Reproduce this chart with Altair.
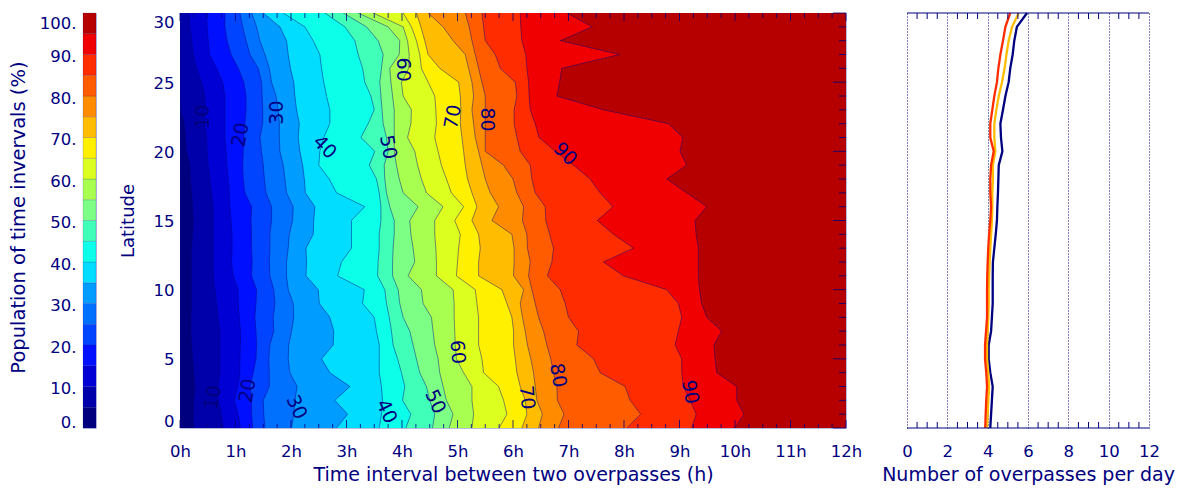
import altair as alt
import pandas as pd

NAVY = "#00007f"
FONT = "DejaVu Sans"
lats = list(range(31))
band_colors = ["#00007f", "#0000aa", "#0000d4", "#0010ff", "#0044ff", "#0070ff", "#009cff",
               "#00ddff", "#0cffe8", "#40ffb8", "#7cff84", "#a8ff50", "#dcff20", "#fff000",
               "#ffbc00", "#ff8c00", "#ff5c00", "#ff2c00", "#f00000", "#b60000"]
levels = list(range(5, 100, 5))

L5 = [.24,.24,.25,.27,.25,.23,.21,.20,.20,.21,.21,.21,.21,.21,.23,.24,.23,.21,.19,.18,.12,.10,.08,.01,0,0,0,0,0,0,0]
L10 = [.78,.75,.69,.69,.72,.72,.72,.72,.69,.66,.63,.60,.60,.60,.60,.60,.60,.57,.54,.51,.49,.48,.45,.45,.45,.39,.30,.24,.21,.18,.17]
L15 = [1.09,1.05,.98,1.05,1.08,1.08,1.09,1.09,1.07,1.05,1.05,.96,.93,.94,.94,.92,.90,.89,.87,.85,.83,.81,.81,.81,.81,.77,.66,.53,.51,.49,.48]
L20 = [1.31,1.29,1.29,1.26,1.32,1.37,1.38,1.37,1.35,1.37,1.38,1.29,1.30,1.29,1.29,1.28,1.29,1.17,1.14,1.13,1.14,1.15,1.17,1.19,1.19,1.15,1.05,.92,.85,.81,.81]
L25 = [1.53,1.51,1.50,1.61,1.61,1.60,1.62,1.69,1.68,1.71,1.69,1.62,1.61,1.62,1.62,1.65,1.65,1.55,1.52,1.50,1.47,1.44,1.49,1.49,1.48,1.47,1.41,1.26,1.19,1.13,1.08]
L30 = [2.01,2.05,2.07,2.11,1.98,1.95,1.96,2.01,2.05,2.04,1.95,1.92,1.92,1.95,1.97,2.03,2.04,1.92,1.89,1.86,1.80,1.79,1.79,1.77,1.73,1.65,1.61,1.53,1.44,1.38,1.29]
L35 = [2.82,3.02,2.79,3.06,2.70,2.55,2.76,2.77,2.70,2.51,2.49,2.27,2.28,2.27,2.40,2.41,2.43,2.26,2.24,2.21,2.16,2.13,2.15,2.10,2.07,2.05,1.99,1.95,1.92,1.80,1.50]
L40 = [3.59,3.63,3.65,3.63,3.59,3.59,3.59,3.54,3.50,3.29,3.32,2.84,2.91,3.09,3.09,3.09,3.33,2.82,2.69,2.50,2.52,2.59,2.70,2.70,2.64,2.59,2.55,2.52,2.40,2.25,1.86]
L45 = [4.07,4.16,4.01,4.05,3.99,3.92,3.84,3.81,3.77,3.72,3.69,3.56,3.57,3.59,3.59,3.62,3.62,3.59,3.54,3.41,3.51,3.26,3.39,3.50,3.44,3.33,3.29,3.21,3.15,2.97,2.61]
L50 = [4.55,4.59,4.50,4.44,4.32,4.26,4.20,4.14,4.02,3.96,3.93,3.83,3.83,3.84,3.86,3.86,3.78,3.72,3.69,3.68,3.75,3.72,3.66,3.64,3.62,3.60,3.63,3.66,3.57,3.36,2.94]
L55 = [4.85,4.92,4.80,4.74,4.68,4.65,4.59,4.56,4.53,4.38,4.35,4.11,4.23,4.20,4.16,4.14,4.29,4.02,3.95,3.90,3.86,3.86,3.86,3.86,3.83,3.80,3.78,3.95,3.96,3.75,3.21]
L60 = [5.26,5.29,5.26,5.26,5.11,4.98,4.96,4.95,4.94,4.94,4.92,4.62,4.62,4.61,4.59,4.59,4.74,4.44,4.35,4.28,4.23,4.10,4.16,4.17,4.02,3.99,4.12,4.13,4.10,4.02,3.48]
L65 = [5.75,5.89,5.83,5.74,5.47,5.44,5.38,5.38,5.38,5.35,5.32,4.98,5.0,5.02,5.05,4.95,5.11,4.89,4.80,4.71,4.65,4.59,4.62,4.61,4.59,4.47,4.35,4.32,4.26,4.17,4.02]
L70 = [6.16,6.25,6.22,6.13,6.07,6.04,6.01,6.01,5.98,5.89,5.80,5.38,5.38,5.41,5.38,5.26,5.35,5.26,5.18,5.14,5.11,5.08,5.05,5.06,5.05,5.02,4.68,4.47,4.41,4.34,4.26]
L75 = [6.46,6.53,6.43,6.40,6.37,6.32,6.26,6.22,6.17,6.13,6.19,6.01,6.02,6.02,5.98,5.62,5.74,5.59,5.50,5.44,5.38,5.32,5.29,5.26,5.29,5.26,5.20,5.14,4.92,4.74,4.47]
L80 = [6.82,6.92,6.80,6.79,6.73,6.68,6.61,6.55,6.46,6.40,6.34,6.28,6.31,6.26,6.25,6.17,6.19,6.07,6.0,5.83,5.50,5.50,5.50,5.50,5.50,5.44,5.38,5.32,5.26,5.21,5.14]
L85 = [8.05,8.30,8.11,8.02,7.57,7.45,7.15,7.18,7.0,6.94,6.85,6.62,6.70,6.73,6.66,6.59,6.58,6.40,6.34,6.31,6.13,6.07,6.02,6.02,6.07,6.04,5.77,5.68,5.50,5.47,5.44]
L90 = [9.22,9.30,9.19,9.07,9.04,9.04,8.92,8.98,9.04,8.98,8.77,7.99,7.63,8.17,7.81,7.52,7.80,7.57,7.39,7.09,6.76,6.47,6.40,6.31,6.29,6.28,6.25,6.23,6.16,6.14,6.13]
L95 = [10.0,10.16,10.03,10.03,9.67,9.64,9.62,9.76,9.49,9.40,9.36,9.34,9.34,9.34,9.30,9.28,9.49,9.13,8.77,9.13,9.01,9.06,8.80,7.63,6.79,6.84,6.88,7.92,6.85,7.43,6.97]
L100 = [12] * 31
contours = [L5, L10, L15, L20, L25, L30, L35, L40, L45, L50, L55, L60, L65, L70, L75, L80, L85, L90, L95, L100]

navy_line = [4.13,4.17,4.21,4.25,4.13,4.05,4.05,4.17,4.21,4.25,4.25,4.25,4.26,4.33,4.40,4.46,4.48,4.51,4.53,4.55,4.73,4.66,4.63,4.76,4.88,5.04,5.12,5.24,5.32,5.45,5.95]
orange_line = [3.97,4.0,4.03,4.07,4.03,3.97,3.97,4.0,4.03,4.05,4.05,4.07,4.10,4.13,4.17,4.21,4.23,4.23,4.26,4.26,4.38,4.33,4.33,4.43,4.55,4.71,4.84,4.93,5.04,5.21,5.54]
red_line = [3.88,3.90,3.93,3.97,3.93,3.87,3.87,3.92,3.97,3.97,3.97,3.98,4.0,4.03,4.07,4.13,4.17,4.13,4.13,4.17,4.30,4.13,4.13,4.23,4.33,4.46,4.53,4.63,4.76,4.88,5.12]

label_text = ["10","20","30","40","50","60","70","80","90","10","20","30","40","50","60","70","80","90"]
label_hour = [.41,1.09,1.75,2.61,3.75,4.02,4.92,5.53,6.94,.6,1.22,2.1,3.72,4.6,5.0,6.25,6.81,9.19]
label_lat = [22.5,21.2,22.8,20.3,20.3,25.9,22.5,22.3,19.8,2.2,2.7,1.5,1.2,1.9,5.5,2.2,3.8,2.6]
label_angle = [270,280,270,45,80,90,280,90,45,280,280,65,65,65,85,85,80,80]

W_BAR, W_MAIN, W_SIDE, H = 13, 666, 242, 415
GAP_1, GAP_2 = 84, 61

# ---------- colour bar
bar_df = pd.DataFrame({"lo": list(range(0, 100, 5)), "hi": list(range(5, 105, 5)), "c": band_colors})
bar = alt.Chart(bar_df).mark_rect(stroke=NAVY, strokeWidth=0.25, strokeOpacity=0.6).encode(
    y=alt.Y("lo:Q", scale=alt.Scale(domain=[0, 100], nice=False),
            axis=alt.Axis(values=list(range(0, 101, 10)), labelExpr="datum.value + '.'", ticks=False,
                          domain=False, grid=False, labelFlush=True, labelOffset=2, labelPadding=7,
                          title="Population of time invervals (%)", titlePadding=11, titleFontSize=19.5,
                          titleY=204)),
    y2="hi:Q",
    fill=alt.Fill("c:N", scale=None),
).properties(width=W_BAR, height=H)

# ---------- main panel
long_df = pd.DataFrame([
    {"level": lv, "lat": la, "hour": h, "zero": 0}
    for lv, vals in zip(levels + [100], contours) for la, h in zip(lats, vals)
])
x_main = alt.X("hour:Q", scale=alt.Scale(domain=[0, 12], nice=False),
               axis=alt.Axis(values=list(range(13)), labelExpr="datum.value + 'h'", ticks=False, domain=False,
                             grid=False, labelPadding=15, labelFlush=False,
                             title="Time interval between two overpasses (h)", titlePadding=6))
y_main = alt.Y("lat:Q", scale=alt.Scale(domain=[0, 30], nice=False),
               axis=alt.Axis(values=list(range(0, 31, 5)), ticks=False, domain=False, grid=False,
                             labelFlush=True, labelOffset=1, labelPadding=6, title="Latitude", titlePadding=16,
                             titleFontSize=18))

layers = []
for i in range(len(contours) - 1, -1, -1):
    lv = (levels + [100])[i]
    layers.append(
        alt.Chart(long_df).transform_filter(alt.datum.level == lv).mark_area(
            orient="horizontal", fill=band_colors[i], clip=True).encode(x=x_main, x2="zero:Q", y=y_main)
    )
for lv in levels:
    layers.append(
        alt.Chart(long_df).transform_filter(alt.datum.level == lv).mark_line(
            color=NAVY, strokeWidth=0.6, opacity=0.75, clip=True).encode(x=x_main, y=y_main, order="lat:Q")
    )

quarter_df = pd.DataFrame({"hour": [q / 4 for q in range(49)], "major": [q % 4 == 0 for q in range(49)]})
lat_df = pd.DataFrame({"lat": lats, "major": [la % 5 == 0 for la in lats]})
q_major = quarter_df[quarter_df.major]
q_minor = quarter_df[~quarter_df.major]
l_major = lat_df[lat_df.major]
l_minor = lat_df[~lat_df.major]
tick_style = dict(color=NAVY, strokeWidth=0.8)
layers += [
    alt.Chart(q_major).mark_rule(**tick_style).encode(x=x_main, y=alt.value(0), y2=alt.value(8)),
    alt.Chart(q_minor).mark_rule(**tick_style).encode(x=x_main, y=alt.value(0), y2=alt.value(5)),
    alt.Chart(q_major).mark_rule(**tick_style).encode(x=x_main, y=alt.value(H - 8), y2=alt.value(H)),
    alt.Chart(q_minor).mark_rule(**tick_style).encode(x=x_main, y=alt.value(H - 4), y2=alt.value(H)),
    alt.Chart(l_major).mark_rule(**tick_style).encode(y=y_main, x=alt.value(W_MAIN - 13), x2=alt.value(W_MAIN)),
    alt.Chart(l_minor).mark_rule(**tick_style).encode(y=y_main, x=alt.value(W_MAIN - 7), x2=alt.value(W_MAIN)),
]
label_df = pd.DataFrame({"t": label_text, "hour": label_hour, "lat": label_lat, "a": label_angle})
for a in sorted(set(label_angle)):
    layers.append(
        alt.Chart(label_df[label_df.a == a]).mark_text(
            font=FONT, fontSize=19, color=NAVY, angle=a, align="center", baseline="middle").encode(
            x=x_main, y=y_main, text="t:N")
    )
main = alt.layer(*layers).properties(width=W_MAIN, height=H)

# ---------- side panel
side_df = pd.DataFrame({"lat": lats, "navy": navy_line, "orange": orange_line, "red": red_line})
x_side = alt.X("n:Q", scale=alt.Scale(domain=[0, 12], nice=False),
               axis=alt.Axis(values=list(range(0, 13, 2)), ticks=False, domain=False, grid=True,
                             gridColor=NAVY, gridDash=[1, 2], gridWidth=1, gridOpacity=1, labelFlush=False,
                             labelPadding=15, title="Number of overpasses per day", titlePadding=6,
                             titleFontSize=19))
y_side = alt.Y("lat:Q", scale=alt.Scale(domain=[0, 30], nice=False), axis=None)
half_df = pd.DataFrame({"n": [h / 2 for h in range(25) if h % 4 != 0]})
side_layers = [
    alt.Chart(side_df).transform_calculate(n="datum.navy").mark_line(color=NAVY, strokeWidth=2.3).encode(
        x=x_side, y=y_side, order="lat:Q"),
    alt.Chart(side_df).transform_calculate(n="datum.orange").mark_line(color="#ffbc00", strokeWidth=2.3).encode(
        x=x_side, y=y_side, order="lat:Q"),
    alt.Chart(side_df).transform_calculate(n="datum.red").mark_line(color="#ff2c00", strokeWidth=2.3).encode(
        x=x_side, y=y_side, order="lat:Q"),
    alt.Chart(half_df).mark_rule(color=NAVY, strokeWidth=1).encode(x=x_side, y=alt.value(0), y2=alt.value(6)),
    alt.Chart(half_df).mark_rule(color=NAVY, strokeWidth=1).encode(x=x_side, y=alt.value(H - 6), y2=alt.value(H)),
    alt.Chart(pd.DataFrame({"v": [0]})).mark_rule(color=NAVY, strokeWidth=1).encode(
        x=alt.value(0), x2=alt.value(W_SIDE), y=alt.value(0)),
    alt.Chart(pd.DataFrame({"v": [0]})).mark_rule(color=NAVY, strokeWidth=1).encode(
        x=alt.value(0), x2=alt.value(W_SIDE), y=alt.value(H)),
]
clear_view = alt.ViewBackground(stroke="transparent")
side = alt.layer(*side_layers).properties(width=W_SIDE, height=H, view=clear_view)


def spacer(w):
    return alt.Chart(pd.DataFrame({"v": [0]})).mark_text(text=" ").encode(x=alt.value(0), y=alt.value(0)).properties(
        width=w, height=H, view=clear_view)


chart = alt.hconcat(bar, spacer(GAP_1), main, spacer(GAP_2), side, spacing=0, bounds="flush").resolve_scale(
    x="independent", y="independent"
).properties(
    padding={"left": -1, "top": -2, "right": 0, "bottom": 0}
).configure_view(stroke="#b8bce4", strokeWidth=1).configure_axis(
    labelFont=FONT, titleFont=FONT, labelFontSize=16.5, titleFontSize=19, labelColor=NAVY, titleColor=NAVY,
    titleFontWeight="normal"
)

chart.save("out.html", embed_options={"renderer": "svg", "actions": False})
